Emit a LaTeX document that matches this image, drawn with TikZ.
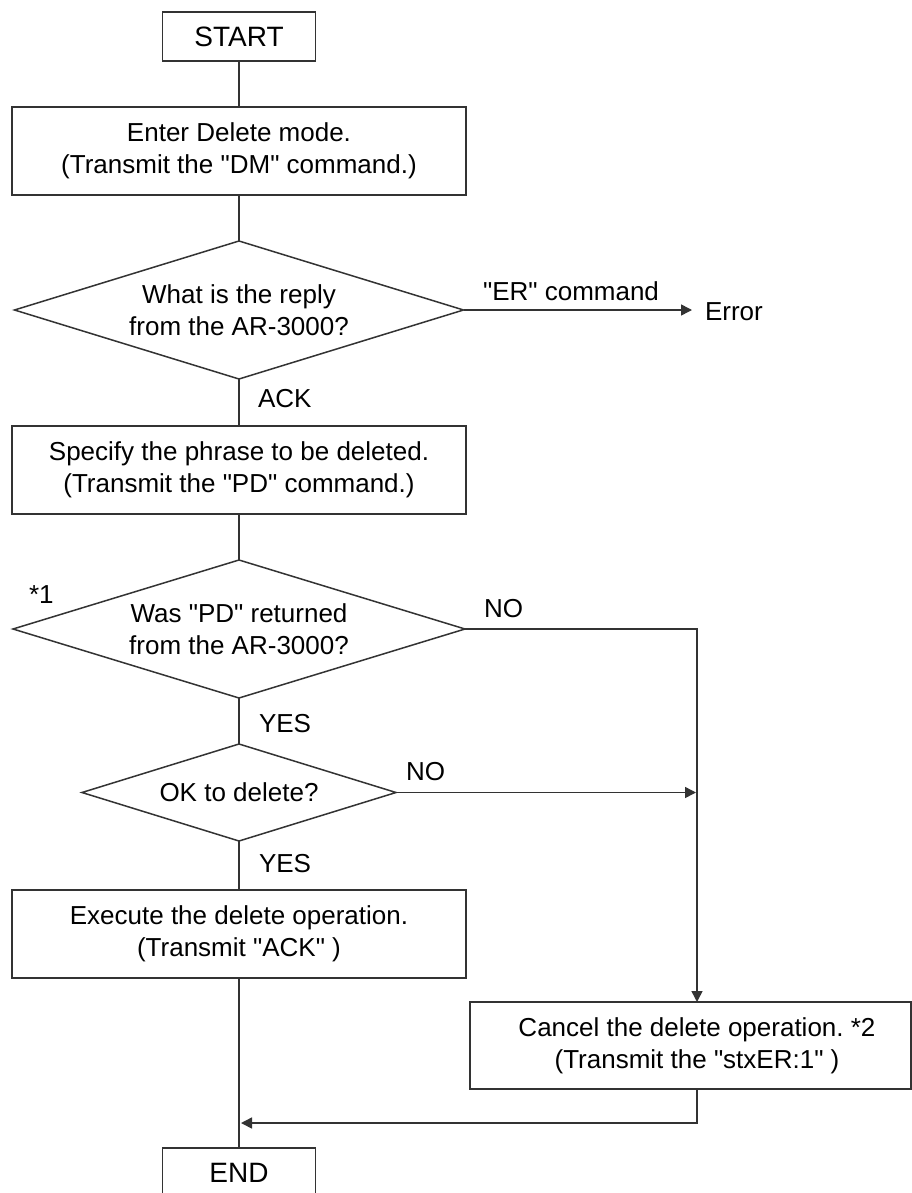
\documentclass[tikz,border=0pt]{standalone}
\usetikzlibrary{shapes.geometric,arrows.meta}
\font\mainf="Liberation Sans" at 26pt
\font\bigf="Liberation Sans" at 28pt
\frenchspacing
\definecolor{lc}{gray}{0.2}
\tikzset{
  every node/.style={font={\mainf\baselineskip=32pt}, inner sep=0pt, outer sep=0pt, text=black},
  proc/.style={draw=lc, line width=1.5pt, minimum width=454pt, minimum height=88pt, align=center},
  term/.style={draw=lc, line width=1.5pt, minimum width=153pt, minimum height=49pt, font=\bigf},
  dec/.style={draw=lc, line width=1.5pt, diamond, shape aspect=3.25, align=center},
  lbl/.style={anchor=base west},
  conn/.style={draw=lc, line width=1.5pt},
  arr/.style={conn, -{Triangle[length=11pt,width=11pt]}}
}
\begin{document}
\frenchspacing
\begin{tikzpicture}[x=1pt,y=-1pt]
\useasboundingbox (0,0) rectangle (912,1193);
\fill[white] (0,0) rectangle (912,1193);

\node[term] (start) at (239,36.5) {START};
\node[proc] (b1) at (239,151) {Enter Delete mode.\\(Transmit the "DM" command.)};
\node[dec, minimum width=449pt, minimum height=138pt] (d1) at (239,310) {What is the reply\\from the AR-3000?};
\node[lbl] (err) at (705,320) {Error};
\node[anchor=base] (erlbl) at (571,300) {"ER" command};
\node[lbl] (ack) at (258,407) {ACK};
\node[proc] (b2) at (239,470) {Specify the phrase to be deleted.\\(Transmit the "PD" command.)};
\node[dec, minimum width=452pt, minimum height=138pt] (d2) at (239,629) {Was "PD" returned\\from the AR-3000?};
\node[lbl] (star1) at (29,603) {*1};
\node[lbl] (no1) at (484,617) {NO};
\node[lbl] (yes1) at (259,732) {YES};
\node[dec, minimum width=314pt, minimum height=97pt] (d3) at (239,792.5) {OK to delete?};
\node[lbl] (no2) at (406,780) {NO};
\node[lbl] (yes2) at (259,872) {YES};
\node[proc] (b3) at (239,934) {Execute the delete operation.\\(Transmit "ACK" )};
\node[draw=lc, line width=1.5pt, minimum width=441pt, minimum height=87pt] (cancel) at (690.5,1045.5) {};
\node[align=center] (canceltext) at (697,1045.5) {Cancel the delete operation. *2\\(Transmit the "stxER:1" )};
\node[term] (end) at (239,1172.5) {END};
\coordinate (ret) at (698,1123);

\draw[conn] (start.south) -- (b1.north);
\draw[conn] (b1.south) -- (d1.north);
\draw[arr, shorten >=13pt] (d1.east) -- (d1.east -| err.west);
\draw[conn] (d1.south) -- (b2.north);
\draw[conn] (b2.south) -- (d2.north);
\draw[arr] (d2.east) -- (d2.east -| canceltext) -- (canceltext |- cancel.north);
\draw[conn] (d2.south) -- (d3.north);
\draw[arr, shorten >=1pt] (d3.east) -- (d3.east -| canceltext);
\draw[conn] (d3.south) -- (b3.north);
\draw[conn] (b3.south) -- (end.north);
\draw[arr, shorten >=2pt] (canceltext |- cancel.south) -- (canceltext |- ret) -- (ret -| end);
\end{tikzpicture}
\end{document}
